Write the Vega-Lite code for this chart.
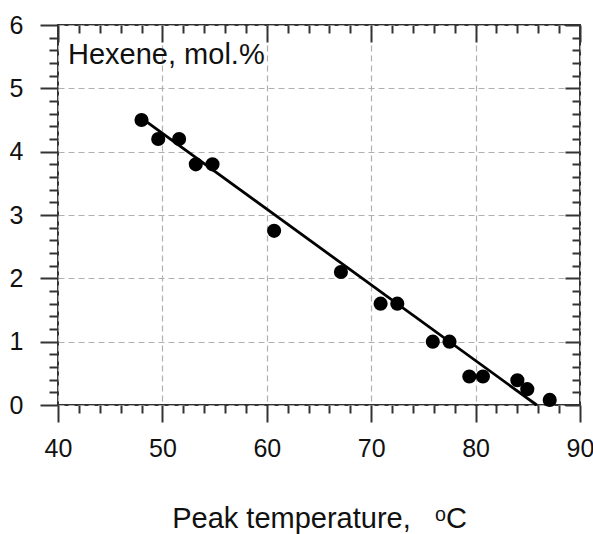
{
  "$schema": "https://vega.github.io/schema/vega-lite/v6.json",
  "width": 522,
  "height": 380,
  "autosize": {"type": "none"},
  "padding": {"left": 58, "top": 25, "right": 13, "bottom": 129},
  "config": {
    "view": {"stroke": "#333", "strokeWidth": 2},
    "font": "Liberation Sans",
    "axis": {"domain": false, "tickColor": "#333", "tickWidth": 2, "labelColor": "#111", "gridColor": "#b0b0b0", "gridDash": [6, 4], "gridWidth": 1.2}
  },
  "datasets": {
    "points": [
      {"temp": 48.0, "hexene": 4.5},
      {"temp": 49.6, "hexene": 4.2},
      {"temp": 51.6, "hexene": 4.2},
      {"temp": 53.2, "hexene": 3.8},
      {"temp": 54.8, "hexene": 3.8},
      {"temp": 60.7, "hexene": 2.75},
      {"temp": 67.1, "hexene": 2.1},
      {"temp": 70.9, "hexene": 1.6},
      {"temp": 72.5, "hexene": 1.6},
      {"temp": 75.9, "hexene": 1.0},
      {"temp": 77.5, "hexene": 1.0},
      {"temp": 79.4, "hexene": 0.45},
      {"temp": 80.7, "hexene": 0.45},
      {"temp": 84.0, "hexene": 0.39},
      {"temp": 84.95, "hexene": 0.25},
      {"temp": 87.1, "hexene": 0.08}
    ],
    "fit": [
      {"temp": 48.0, "hexene": 4.53},
      {"temp": 85.85, "hexene": 0.0}
    ],
    "label": [
      {"temp": 40.96, "hexene": 5.385, "text": "Hexene, mol.%"}
    ]
  },
  "resolve": {"axis": {"x": "independent", "y": "independent"}},
  "layer": [
    {
      "data": {"name": "fit"},
      "mark": {"type": "line", "color": "black", "strokeWidth": 2.8},
      "encoding": {
        "x": {"field": "temp", "type": "quantitative", "scale": {"domain": [40, 90], "nice": false, "zero": false},
          "axis": {"orient": "bottom", "values": [40, 50, 60, 70, 80, 90], "tickSize": 17, "labelFontSize": 25, "labelPadding": 14, "grid": true, "title": "Peak temperature,\u00a0\u00a0\u00a0ᵒC", "titleFontSize": 29, "titleFontWeight": "normal", "titleColor": "#111", "titlePadding": 43, "labelFlush": false}},
        "y": {"field": "hexene", "type": "quantitative", "scale": {"domain": [0, 6], "nice": false},
          "axis": {"orient": "left", "values": [0, 1, 2, 3, 4, 5, 6], "tickSize": 18, "labelFontSize": 25, "labelPadding": 17, "grid": true, "title": null, "labelFlush": false}}
      }
    },
    {
      "data": {"name": "points"},
      "mark": {"type": "circle", "color": "black", "size": 200, "opacity": 1},
      "encoding": {
        "x": {"field": "temp", "type": "quantitative",
          "axis": {"orient": "top", "values": [40, 50, 60, 70, 80, 90], "tickSize": -17, "labels": false, "grid": false, "title": null}},
        "y": {"field": "hexene", "type": "quantitative",
          "axis": {"orient": "right", "values": [0, 1, 2, 3, 4, 5, 6], "tickSize": -15, "labels": false, "grid": false, "title": null}}
      }
    },
    {
      "data": {"name": "label"},
      "mark": {"type": "text", "align": "left", "baseline": "alphabetic", "fontSize": 29, "color": "#111"},
      "encoding": {
        "text": {"field": "text"},
        "x": {"field": "temp", "type": "quantitative",
          "axis": {"orient": "bottom", "values": [42, 44, 46, 48, 52, 54, 56, 58, 62, 64, 66, 68, 72, 74, 76, 78, 82, 84, 86, 88], "tickSize": 8, "labels": false, "grid": false, "title": null}},
        "y": {"field": "hexene", "type": "quantitative",
          "axis": {"orient": "left", "values": [0.2, 0.4, 0.6, 0.8, 1.2, 1.4, 1.6, 1.8, 2.2, 2.4, 2.6, 2.8, 3.2, 3.4, 3.6, 3.8, 4.2, 4.4, 4.6, 4.8, 5.2, 5.4, 5.6, 5.8], "tickSize": 9, "labels": false, "grid": false, "title": null}}
      }
    },
    {
      "data": {"name": "points"},
      "mark": {"type": "circle", "opacity": 0},
      "encoding": {
        "x": {"field": "temp", "type": "quantitative",
          "axis": {"orient": "top", "values": [42, 44, 46, 48, 52, 54, 56, 58, 62, 64, 66, 68, 72, 74, 76, 78, 82, 84, 86, 88], "tickSize": -8, "labels": false, "grid": false, "title": null}},
        "y": {"field": "hexene", "type": "quantitative",
          "axis": {"orient": "right", "values": [0.2, 0.4, 0.6, 0.8, 1.2, 1.4, 1.6, 1.8, 2.2, 2.4, 2.6, 2.8, 3.2, 3.4, 3.6, 3.8, 4.2, 4.4, 4.6, 4.8, 5.2, 5.4, 5.6, 5.8], "tickSize": -8, "labels": false, "grid": false, "title": null}}
      }
    }
  ]
}
